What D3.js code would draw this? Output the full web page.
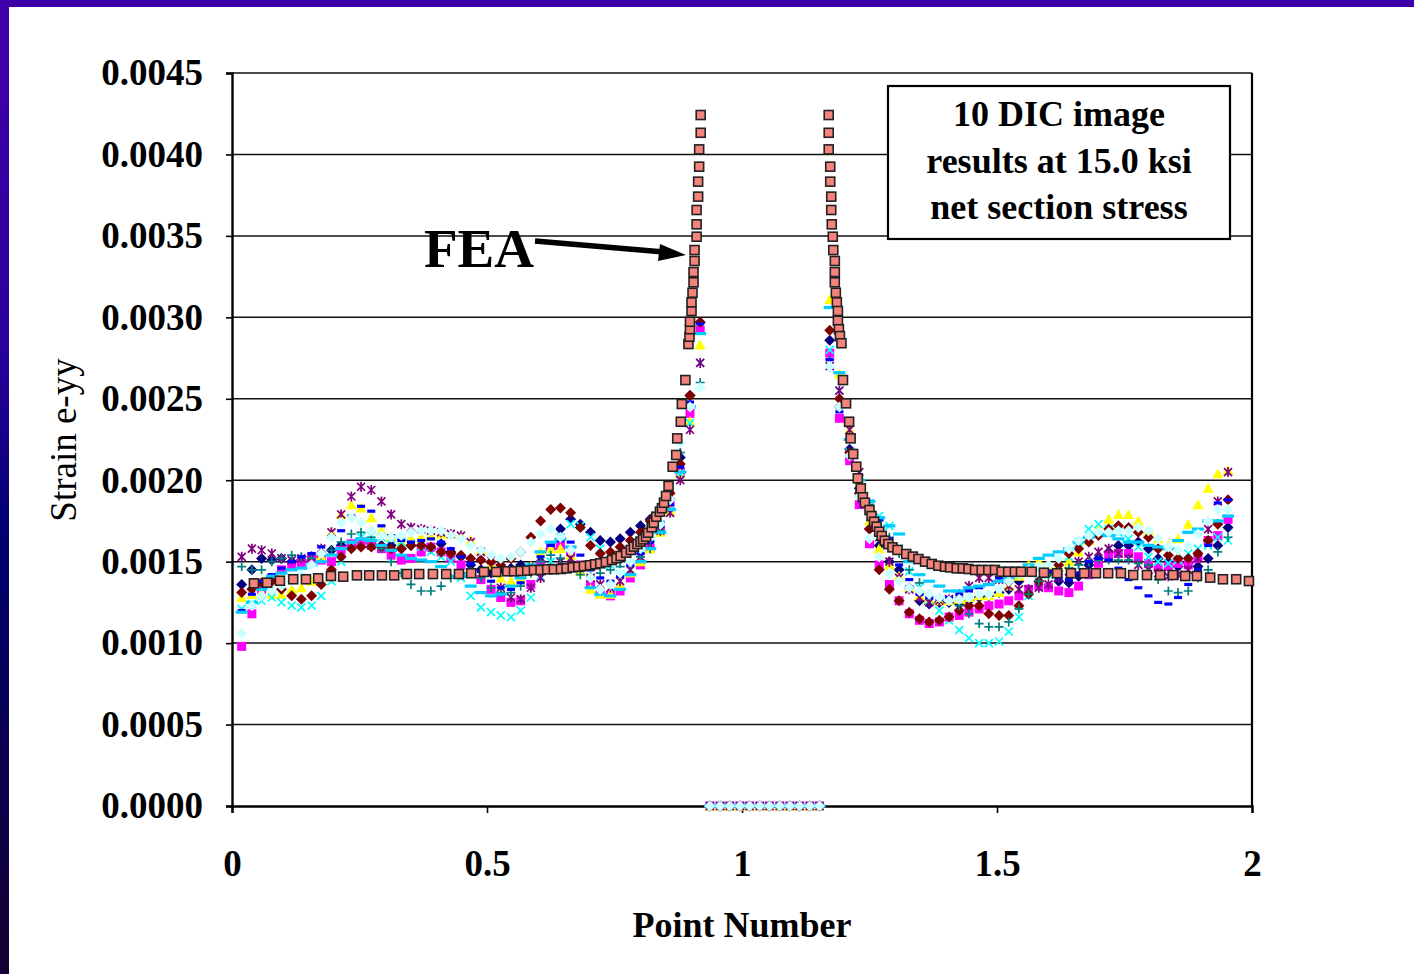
<!DOCTYPE html>
<html>
<head>
<meta charset="utf-8">
<title>Strain e-yy vs Point Number</title>
<style>
  body { margin: 0; background: #fff; }
  svg text { font-family: "Liberation Serif", "Times New Roman", serif; fill: #000; }
</style>
</head>
<body>
<svg id="chart" width="1414" height="974"></svg>
<script src="https://cdn.jsdelivr.net/npm/d3@7/dist/d3.min.js"></script>
<script>
// point positions of the 100 DIC points (Point Number axis)
var dicX = [0.019,0.039,0.058,0.078,0.097,0.117,0.136,0.156,0.175,0.195,
  0.214,0.234,0.253,0.273,0.293,0.312,0.332,0.351,0.371,0.390,
  0.410,0.429,0.449,0.468,0.488,0.508,0.527,0.547,0.566,0.586,
  0.605,0.625,0.644,0.664,0.683,0.703,0.722,0.742,0.761,0.781,
  0.801,0.820,0.840,0.859,0.879,0.898,0.918,0.937,0.957,0.976,
  0.996,1.015,1.035,1.054,1.074,1.094,1.113,1.133,1.152,1.172,
  1.191,1.211,1.230,1.250,1.269,1.289,1.308,1.328,1.348,1.367,
  1.387,1.406,1.426,1.445,1.465,1.484,1.504,1.523,1.543,1.562,
  1.582,1.601,1.621,1.641,1.660,1.680,1.699,1.719,1.738,1.758,
  1.777,1.797,1.816,1.836,1.855,1.875,1.894,1.914,1.933,1.953];

// DIC strain e-yy, in units of 1e-4 (10 images)
var dic1 = [13.6,14.5,15.2,15.1,15.2,15.0,15.1,15.3,15.5,15.7,16.0,16.0,16.2,16.1,16.0,16.0,15.8,16.0,16.0,15.8,
  16.1,15.6,15.3,14.8,14.5,14.3,14.3,14.6,14.8,14.7,15.0,15.8,17.0,17.6,17.3,16.8,16.3,16.2,16.4,16.8,
  17.2,17.6,18.1,18.8,21.4,25.2,29.7,0,0,0,0,0,0,0,0,0,0,0,0,
  28.6,24.5,21.9,19.5,17.0,16.0,15.0,14.5,13.4,12.6,12.4,12.5,12.5,12.4,12.6,12.8,12.9,13.1,13.3,13.8,
  14.5,14.7,14.5,13.8,13.7,14.1,14.8,15.2,15.6,16.0,16.0,16.2,15.8,15.2,15.0,14.7,14.9,14.7,15.2,16.0,17.1];
var dic2 = [9.8,11.8,13.3,14.0,14.5,14.7,14.9,15.1,15.1,15.0,15.7,16.1,16.2,16.0,15.8,15.4,15.1,15.2,15.6,15.9,
  15.6,15.2,14.8,14.3,13.9,13.3,12.8,12.5,12.6,13.6,14.8,15.9,16.0,15.6,14.8,13.6,13.1,12.9,13.2,14.0,
  14.8,15.8,17.2,18.6,20.5,24.1,29.2,0,0,0,0,0,0,0,0,0,0,0,0,
  27.8,23.8,21.2,18.5,16.1,14.8,13.6,12.6,11.8,11.4,11.2,11.3,11.6,11.7,11.9,12.1,12.3,12.4,12.6,12.9,
  13.3,13.5,13.4,13.2,13.1,13.5,14.2,14.9,15.4,15.5,15.5,15.3,14.9,14.6,14.7,14.9,14.8,15.2,16.3,16.6,17.6];
var dic3 = [12.8,13.0,13.1,13.0,13.0,13.3,13.4,13.8,15.3,16.8,17.9,18.5,18.3,17.7,16.9,16.5,16.2,16.4,16.5,16.6,
  16.7,16.7,16.6,16.3,15.7,14.8,14.0,13.8,14.0,14.7,15.6,15.8,15.8,15.4,14.4,13.3,13.0,13.0,13.6,14.3,
  15.0,15.8,16.8,18.1,20.4,23.6,28.3,0,0,0,0,0,0,0,0,0,0,0,0,
  31.1,26.5,23.1,20.0,17.5,15.8,14.8,14.1,13.4,12.9,12.7,12.6,12.6,12.7,12.8,12.9,12.9,13.1,13.5,14.1,
  14.8,15.0,14.8,14.7,15.0,15.6,16.3,17.0,17.6,17.9,17.9,17.5,16.9,16.4,16.0,16.4,17.3,18.5,19.5,20.4,20.6];
var dic4 = [12.1,12.4,12.6,12.8,12.5,12.3,12.2,12.3,12.9,13.8,15.0,16.0,16.5,16.6,16.5,16.4,16.2,16.1,15.9,15.6,
  15.3,15.0,14.0,12.9,12.2,11.9,11.7,11.6,12.0,12.8,14.1,15.0,16.5,17.3,17.2,16.5,15.8,14.8,14.2,14.5,
  15.5,16.5,17.3,18.6,20.4,23.5,27.2,0,0,0,0,0,0,0,0,0,0,0,0,
  28.0,25.5,21.7,19.9,18.6,17.8,17.2,15.8,14.4,13.4,12.6,12.0,11.4,10.8,10.3,10.0,10.0,10.1,10.7,11.6,
  12.9,13.8,14.2,14.6,15.3,16.2,17.0,17.3,17.0,16.8,16.4,15.9,15.3,15.0,14.9,15.1,15.5,15.8,16.0,16.5,16.3];
var dic5 = [15.3,15.8,15.7,15.5,15.2,15.1,15.2,15.3,15.8,16.8,17.9,19.0,19.6,19.4,18.7,17.9,17.3,17.1,17.0,16.9,
  16.8,16.7,16.6,16.2,15.6,15.1,13.4,12.8,12.7,13.4,14.0,14.6,15.0,15.2,14.6,14.0,13.6,13.4,13.8,14.5,
  15.3,16.0,16.9,18.0,20.0,23.1,27.2,0,0,0,0,0,0,0,0,0,0,0,0,
  27.0,25.5,23.1,20.5,18.3,16.5,15.0,14.0,13.3,12.8,12.5,12.6,12.7,13.0,13.5,14.0,14.0,13.9,13.5,13.3,
  13.3,13.4,13.6,14.0,14.4,15.0,15.3,15.6,15.8,15.5,15.2,14.8,14.5,14.3,14.1,14.2,14.5,15.2,17.0,18.7,20.5];
var dic6 = [13.1,13.3,13.7,13.8,13.3,12.9,12.7,12.9,13.6,14.5,15.3,15.8,15.9,15.9,15.9,15.8,15.8,16.0,16.0,15.9,
  15.6,15.5,15.4,15.2,15.1,15.0,14.8,15.2,15.6,16.5,17.5,18.2,18.3,18.0,17.1,16.0,15.5,15.6,15.9,16.3,
  16.8,17.5,18.2,19.2,21.0,25.2,29.7,0,0,0,0,0,0,0,0,0,0,0,0,
  29.2,25.0,21.7,19.2,17.0,14.5,13.3,12.6,11.9,11.5,11.3,11.4,11.6,12.0,12.3,12.3,11.8,11.7,11.7,12.3,
  13.0,13.8,14.3,14.8,15.5,15.8,16.2,16.6,17.0,17.2,17.1,16.8,16.5,15.8,15.4,15.2,15.2,15.5,16.3,17.3,18.8];
var dic7 = [14.7,14.5,14.5,15.0,15.2,15.4,15.3,15.2,15.4,15.7,16.2,16.7,16.8,16.5,15.8,15.0,14.3,13.6,13.2,13.2,
  13.5,14.0,14.3,14.4,14.0,13.4,13.1,13.1,13.5,14.3,15.0,15.4,15.2,14.7,14.2,14.1,14.3,14.5,14.7,15.0,
  15.3,15.8,16.9,18.8,21.7,24.5,26.0,0,0,0,0,0,0,0,0,0,0,0,0,
  27.4,24.5,21.5,20.0,18.5,17.5,16.5,15.5,14.5,13.7,13.0,12.8,12.6,12.3,11.8,11.2,11.0,11.0,11.3,12.1,
  13.0,13.8,14.2,14.4,14.6,14.8,15.0,15.1,15.1,15.1,15.1,14.9,14.8,13.9,13.2,13.1,13.2,14.0,14.5,15.6,16.5];
var dic8 = [12.0,13.0,13.8,14.2,14.6,15.0,15.3,15.5,15.9,16.5,16.9,17.8,18.4,18.1,17.2,16.6,16.3,16.2,16.3,16.4,
  16.2,15.8,15.3,14.9,14.4,13.8,13.4,13.3,13.7,14.5,15.3,16.0,16.3,16.2,15.4,14.5,14.0,13.8,14.1,14.8,
  15.5,16.2,17.2,18.5,20.8,24.8,29.6,0,0,0,0,0,0,0,0,0,0,0,0,
  27.4,24.2,21.5,19.3,18.7,17.6,16.4,14.8,13.9,13.0,12.8,12.7,12.8,13.0,13.2,13.4,13.6,14.0,14.2,14.4,
  14.5,14.6,14.4,14.0,13.9,14.3,15.0,15.2,15.1,14.6,13.9,13.4,12.9,12.5,12.4,12.8,13.6,14.5,16.0,18.6,18.8];
var dic9 = [11.9,12.5,13.3,14.1,14.3,14.5,14.6,14.8,15.0,15.4,15.8,16.2,16.4,16.3,16.0,15.7,15.4,15.2,15.1,15.0,
  14.7,14.1,14.1,13.5,13.1,12.9,13.0,13.5,14.0,14.8,15.6,16.2,16.4,15.9,14.5,13.4,13.0,12.9,13.3,14.2,
  15.0,15.8,16.8,18.2,20.5,24.5,29.0,0,0,0,0,0,0,0,0,0,0,0,0,
  30.6,26.6,22.5,20.0,18.7,17.7,17.2,16.7,15.0,14.2,13.8,13.5,13.2,13.2,13.4,13.5,13.6,13.8,14.0,14.4,
  14.8,15.2,15.4,15.6,15.8,16.2,16.5,16.7,16.6,16.4,16.2,16.2,16.0,15.9,15.8,16.3,16.8,17.0,17.5,17.5,17.8];
var dic10 = [10.6,12.3,12.9,13.2,13.5,13.8,14.2,14.8,15.5,16.5,17.4,17.7,17.4,16.9,16.6,16.5,16.6,16.8,16.9,16.9,
  16.9,16.6,16.4,16.0,15.7,15.4,15.2,15.3,15.6,16.2,16.7,17.0,16.5,15.7,14.8,14.0,13.3,13.6,14.3,15.0,
  15.8,16.5,17.3,18.8,22.3,24.5,25.7,0,0,0,0,0,0,0,0,0,0,0,0,
  27.0,24.5,21.5,19.0,16.4,15.3,14.3,13.8,13.4,13.2,13.0,12.8,12.6,12.7,12.8,13.0,13.0,13.3,13.8,14.2,
  14.5,14.7,14.8,15.2,15.8,16.3,16.6,16.8,16.8,16.9,16.9,17.1,16.9,16.4,15.9,15.7,16.0,16.7,17.5,18.2,18.2];

// FEA prediction: point positions and strain (units of 1e-4)
var feaX = [0.043,0.069,0.094,0.120,0.145,0.169,0.194,0.218,0.245,0.269,0.294,0.318,0.343,0.367,0.394,0.420,0.445,0.469,0.494,0.518,
  0.540,0.553,0.566,0.579,0.592,0.605,0.618,0.631,0.645,0.656,0.668,0.679,0.690,0.702,0.712,0.722,0.733,0.745,0.754,0.762,
  0.773,0.782,0.788,0.795,0.801,0.806,0.812,0.816,0.823,0.827,0.832,0.839,0.843,0.847,0.851,0.856,0.864,0.871,0.873,0.880,
  0.882,0.889,0.895,0.897,0.898,0.898,0.901,0.901,0.903,0.905,0.905,0.907,0.907,0.911,0.911,0.911,0.914,0.914,0.916,0.916,
  0.919,0.919,
  1.170,1.170,1.170,1.173,1.173,1.175,1.175,1.176,1.178,1.179,1.182,1.182,1.182,1.184,1.186,1.188,1.188,1.190,1.192,1.195,
  1.198,1.204,1.210,1.213,1.218,1.224,1.227,1.233,1.237,1.241,1.250,1.254,1.259,1.264,1.269,1.274,1.280,1.287,1.295,1.305,
  1.322,1.335,1.346,1.359,1.372,1.385,1.398,1.408,1.421,1.433,1.444,1.457,1.470,1.483,1.496,1.509,1.522,1.535,1.547,1.568,
  1.592,1.618,1.645,1.671,1.694,1.718,1.743,1.767,1.794,1.820,1.845,1.869,1.892,1.918,1.943,1.969,1.994];
var feaY = [13.67,13.71,13.83,13.92,13.92,13.98,14.12,14.08,14.16,14.16,14.16,14.16,14.24,14.24,14.24,14.24,14.24,14.29,14.37,14.37,
  14.41,14.41,14.43,14.45,14.49,14.49,14.53,14.53,14.55,14.59,14.65,14.69,14.73,14.78,14.84,14.90,14.98,15.10,15.21,15.35,
  15.55,15.72,15.92,16.08,16.23,16.37,16.53,16.78,17.11,17.39,17.76,18.07,18.28,18.62,19.03,19.65,20.83,21.55,22.57,23.59,
  24.68,26.15,28.36,28.81,29.27,29.73,30.39,30.92,31.51,32.15,32.78,33.46,34.13,34.95,35.71,36.59,37.41,38.33,39.25,40.31,
  41.33,42.42,
  42.42,41.33,40.31,39.25,38.33,37.41,36.59,35.71,34.95,34.13,33.46,32.78,32.15,31.51,30.92,30.39,29.79,29.27,28.85,28.41,
  26.15,24.72,23.59,22.57,21.61,20.83,20.12,19.50,18.95,18.62,18.17,17.80,17.45,17.15,16.84,16.58,16.29,16.08,15.88,15.72,
  15.47,15.31,15.16,15.00,14.86,14.75,14.69,14.65,14.59,14.59,14.55,14.49,14.49,14.49,14.49,14.38,14.38,14.38,14.38,14.38,
  14.32,14.29,14.29,14.29,14.29,14.29,14.29,14.18,14.18,14.18,14.18,14.12,14.12,14.02,13.92,13.92,13.81];

var xTicks = [0, 0.5, 1, 1.5, 2];
var yTicks = [0, 0.0005, 0.001, 0.0015, 0.002, 0.0025, 0.003, 0.0035, 0.004, 0.0045];
var boxLines = ["10 DIC image", "results at 15.0 ksi", "net section stress"];

var series = [
  { values: dic1, color: "#000080", shape: "diamond" },
  { values: dic2, color: "#ff00ff", shape: "square" },
  { values: dic3, color: "#ffff00", shape: "triangle" },
  { values: dic4, color: "#00ffff", shape: "x" },
  { values: dic5, color: "#800080", shape: "star" },
  { values: dic6, color: "#800000", shape: "diamond" },
  { values: dic7, color: "#008080", shape: "plus" },
  { values: dic8, color: "#0000ff", shape: "dash" },
  { values: dic9, color: "#00ccff", shape: "longdash" },
  { values: dic10, color: "#ccffff", shape: "diamond" }
];

var shapes = {
  diamond: "M0,-5.5L5.5,0L0,5.5L-5.5,0Z",
  square: "M-4.5,-4.5H4.5V4.5H-4.5Z",
  triangle: "M0,-5.5L5.5,4.5L-5.5,4.5Z",
  x: "M-4,-4L4,4M-4,4L4,-4",
  star: "M-4,-4L4,4M-4,4L4,-4M0,-5V5",
  plus: "M-4.5,0H4.5M0,-4.5V4.5",
  dash: "M-4,-1.6H4V1.6H-4Z",
  longdash: "M-6,-1.6H6V1.6H-6Z"
};
var stroked = { x: true, star: true, plus: true };

var svg = d3.select("#chart");

// slide background behind the chart
var defs = svg.append("defs");
var grad = defs.append("linearGradient").attr("id", "side")
  .attr("x1", 0).attr("y1", 0).attr("x2", 0).attr("y2", 1);
grad.append("stop").attr("offset", "0%").attr("stop-color", "#4200aa");
grad.append("stop").attr("offset", "35%").attr("stop-color", "#2a00a0");
grad.append("stop").attr("offset", "55%").attr("stop-color", "#000070");
grad.append("stop").attr("offset", "100%").attr("stop-color", "#140030");
svg.append("rect").attr("width", 1414).attr("height", 974).attr("fill", "url(#side)");
svg.append("rect").attr("width", 1414).attr("height", 7).attr("fill", "#3f00a8");
svg.append("rect").attr("x", 9).attr("y", 7).attr("width", 1405).attr("height", 967).attr("fill", "#ffffff");

var x = d3.scaleLinear().domain([0, 2]).range([232, 1252]);
var y = d3.scaleLinear().domain([0, 0.0045]).range([806, 73]);

// horizontal gridlines
svg.append("g")
  .selectAll("line")
  .data(yTicks.slice(1))
  .enter().append("line")
  .attr("x1", x(0)).attr("x2", x(2))
  .attr("y1", function (d) { return y(d); })
  .attr("y2", function (d) { return y(d); })
  .attr("stroke", "#111").attr("stroke-width", 1.5);

// right border of plot area
svg.append("line")
  .attr("x1", x(2)).attr("x2", x(2)).attr("y1", y(0.0045)).attr("y2", y(0))
  .attr("stroke", "#000").attr("stroke-width", 2.2);

var xAxis = svg.append("g")
  .attr("transform", "translate(0," + y(0) + ")")
  .call(d3.axisBottom(x).tickValues(xTicks).tickFormat(d3.format("")).tickSize(7).tickPadding(37));
var yAxis = svg.append("g")
  .attr("transform", "translate(" + x(0) + ",0)")
  .call(d3.axisLeft(y).tickValues(yTicks).tickFormat(d3.format(".4f")).tickSize(6).tickPadding(23));

[xAxis, yAxis].forEach(function (a) {
  a.select(".domain").attr("stroke", "#000").attr("stroke-width", 2.4);
  a.selectAll(".tick line").attr("stroke", "#000").attr("stroke-width", 1.6);
  a.selectAll(".tick text")
    .style("font-family", "'Liberation Serif', 'Times New Roman', serif")
    .style("font-size", "37px").style("font-weight", "bold").attr("fill", "#000");
});

// DIC markers
series.forEach(function (s) {
  var pts = dicX.map(function (d, i) { return [d, s.values[i] * 1e-4]; });
  svg.append("g")
    .selectAll("path")
    .data(pts)
    .enter().append("path")
    .attr("transform", function (d) { return "translate(" + x(d[0]) + "," + y(d[1]) + ")"; })
    .attr("d", shapes[s.shape])
    .attr("fill", stroked[s.shape] ? "none" : s.color)
    .attr("stroke", stroked[s.shape] ? s.color : "none")
    .attr("stroke-width", 1.7);
});

// FEA markers on top
svg.append("g")
  .selectAll("rect")
  .data(feaX.map(function (d, i) { return [d, feaY[i] * 1e-4]; }))
  .enter().append("rect")
  .attr("x", function (d) { return x(d[0]) - 4.5; })
  .attr("y", function (d) { return y(d[1]) - 4.5; })
  .attr("width", 9).attr("height", 9)
  .attr("fill", "#f4837b").attr("stroke", "#222").attr("stroke-width", 1.6);

// note box
svg.append("rect")
  .attr("x", 888).attr("y", 86).attr("width", 342).attr("height", 153)
  .attr("fill", "#fff").attr("stroke", "#000").attr("stroke-width", 2.2);
svg.append("g").selectAll("text")
  .data(boxLines)
  .enter().append("text")
  .attr("x", 1059)
  .attr("y", function (d, i) { return 126 + i * 46.5; })
  .attr("text-anchor", "middle")
  .style("font-size", "36px").style("font-weight", "bold")
  .text(function (d) { return d; });

// FEA label and arrow
svg.append("text")
  .attr("x", 424).attr("y", 267)
  .style("font-size", "55px").style("font-weight", "bold")
  .text("FEA");
svg.append("line")
  .attr("x1", 535).attr("y1", 241).attr("x2", 664).attr("y2", 252)
  .attr("stroke", "#000").attr("stroke-width", 5.5);
svg.append("path")
  .attr("d", "M686,255 L660,244 L658,261 Z")
  .attr("fill", "#000");

// axis titles
svg.append("text")
  .attr("x", 742).attr("y", 937)
  .attr("text-anchor", "middle")
  .style("font-size", "36px").style("font-weight", "bold")
  .text("Point Number");
svg.append("text")
  .attr("transform", "translate(76,440) rotate(-90)")
  .attr("text-anchor", "middle")
  .style("font-size", "37px")
  .text("Strain e-yy");
</script>
</body>
</html>
